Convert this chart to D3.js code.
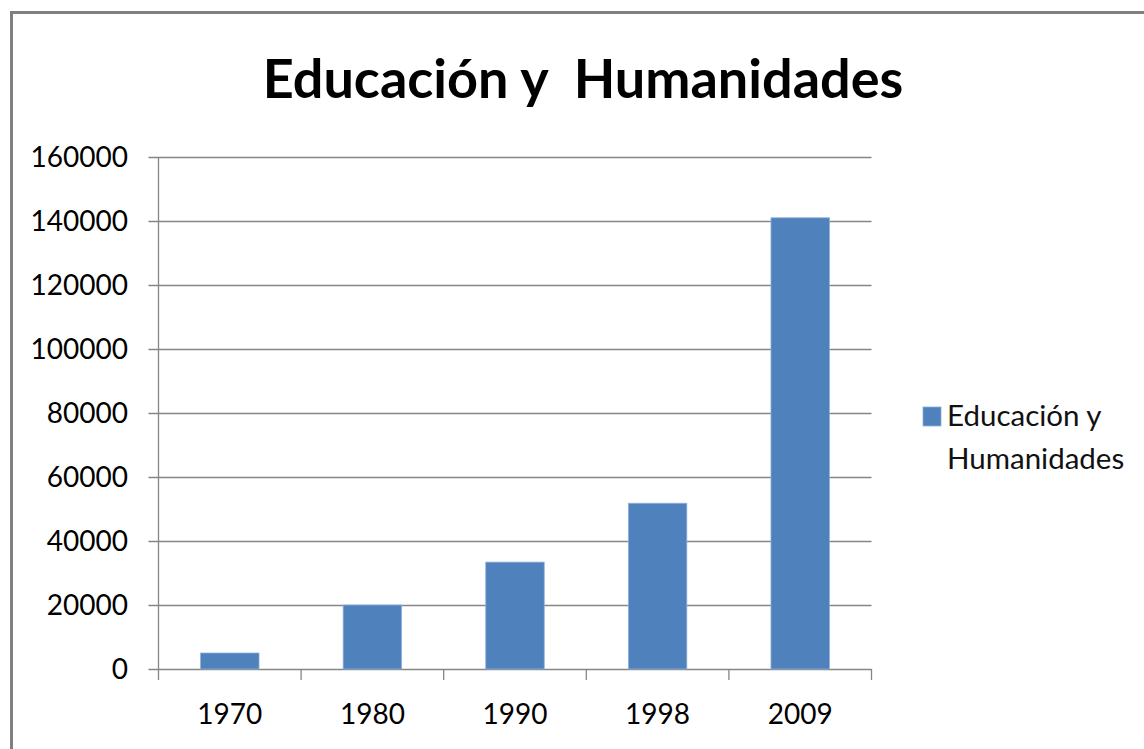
<!DOCTYPE html>
<html>
<head>
<meta charset="utf-8">
<script src="https://cdn.jsdelivr.net/npm/d3@7"></script>
<style>
  body { margin: 0; background: #fff; }
  text { font-family: Lato, "Open Sans", sans-serif; fill: #000; }
</style>
</head>
<body>
<svg id="chart" width="1144" height="749"></svg>
<script>
// chart data
const years = ["1970", "1980", "1990", "1998", "2009"];
const values = [5000, 20000, 33400, 51800, 141000];
const yTicks = [0, 20000, 40000, 60000, 80000, 100000, 120000, 140000, 160000];
const seriesName = ["Educación y", "Humanidades"];
const titleText = "Educación y  Humanidades";

const svg = d3.select("#chart");

// outer frame
svg.append("rect")
  .attr("x", 11.5).attr("y", 12.5)
  .attr("width", 1200).attr("height", 800)
  .attr("fill", "none")
  .attr("stroke", "#808080")
  .attr("stroke-width", 3);

const plot = { left: 158.5, right: 871.5, top: 157, bottom: 669 };

const x = d3.scaleBand()
  .domain(years)
  .range([plot.left, plot.right]);

const y = d3.scaleLinear()
  .domain([0, 160000])
  .range([plot.bottom, plot.top]);

// gridlines
svg.append("g")
  .selectAll("line")
  .data(yTicks)
  .enter()
  .append("line")
  .attr("x1", plot.left - 10)
  .attr("x2", plot.right)
  .attr("y1", (d) => Math.round(y(d)) + 0.5)
  .attr("y2", (d) => Math.round(y(d)) + 0.5)
  .attr("stroke", "#868686")
  .attr("stroke-width", 1.3);

// y labels
svg.append("g")
  .selectAll("text")
  .data(yTicks)
  .enter()
  .append("text")
  .attr("x", 128)
  .attr("y", (d) => y(d))
  .attr("dy", "0.36em")
  .attr("text-anchor", "end")
  .style("font-size", "28px")
  .text((d) => d);

// bars
const barW = x.bandwidth() * 0.41;
svg.append("g")
  .selectAll("rect")
  .data(values)
  .enter()
  .append("rect")
  .attr("x", (d, i) => x(years[i]) + (x.bandwidth() - barW) / 2)
  .attr("y", (d) => y(d))
  .attr("width", barW)
  .attr("height", (d) => y(0) - y(d))
  .attr("fill", "#4f81bd")
  .attr("stroke", "#8fb0da")
  .attr("stroke-width", 0.8);

// y axis line
svg.append("line")
  .attr("x1", plot.left).attr("x2", plot.left)
  .attr("y1", plot.top).attr("y2", plot.bottom)
  .attr("stroke", "#868686").attr("stroke-width", 1.3);

// x axis ticks
const xEdges = years.map((d) => x(d)).concat([plot.right]);
svg.append("g")
  .selectAll("line")
  .data(xEdges)
  .enter()
  .append("line")
  .attr("x1", (d) => d).attr("x2", (d) => d)
  .attr("y1", plot.bottom).attr("y2", plot.bottom + 11)
  .attr("stroke", "#868686").attr("stroke-width", 1.3);

// x labels
svg.append("g")
  .selectAll("text")
  .data(years)
  .enter()
  .append("text")
  .attr("x", (d) => x(d) + x.bandwidth() / 2)
  .attr("y", 724)
  .attr("text-anchor", "middle")
  .style("font-size", "28px")
  .text((d) => d);

// title
svg.append("text")
  .attr("x", 583)
  .attr("y", 98)
  .attr("text-anchor", "middle")
  .style("font-size", "54px")
  .style("font-weight", "bold")
  .style("white-space", "pre")
  .attr("xml:space", "preserve")
  .text(titleText);

// legend
svg.append("rect")
  .attr("x", 923).attr("y", 407)
  .attr("width", 18).attr("height", 19)
  .attr("fill", "#4f81bd")
  .attr("stroke", "#8fb0da")
  .attr("stroke-width", 0.8);

svg.append("g")
  .selectAll("text")
  .data(seriesName)
  .enter()
  .append("text")
  .attr("x", 947)
  .attr("y", (d, i) => 426 + i * 43)
  .style("font-size", "29.5px")
  .style("fill", "#111")
  .text((d) => d);
</script>
</body>
</html>
